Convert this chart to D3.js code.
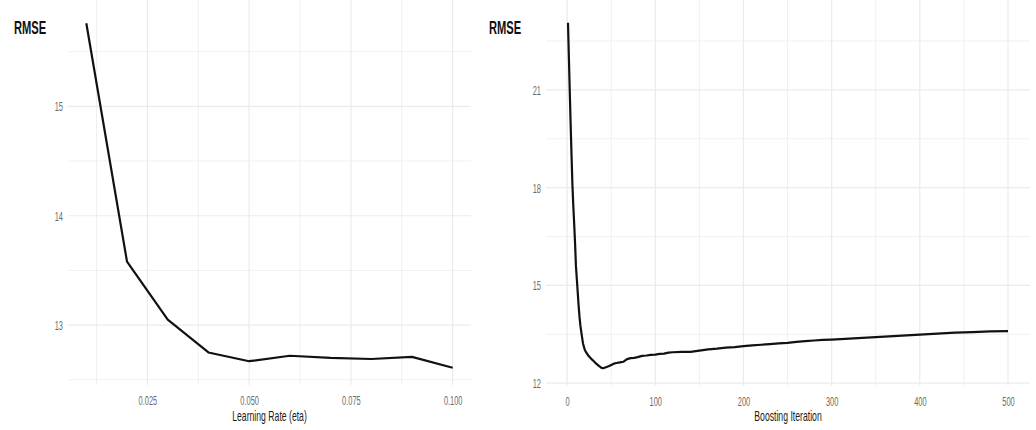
<!DOCTYPE html>
<html>
<head>
<meta charset="utf-8">
<script src="https://cdn.jsdelivr.net/npm/d3@7"></script>
<style>
	html, body { margin:0; padding:0; background:#fff; }
	svg { display:block; }
</style>
</head>
<body>
<svg id="chart" width="1036" height="430"></svg>
<script>

// left panel: RMSE vs learning rate
var etaValues = [0.01, 0.02, 0.03, 0.04, 0.05, 0.06, 0.07, 0.08, 0.09, 0.10];
var etaRmse = [15.76, 13.58, 13.05, 12.75, 12.67, 12.72, 12.70, 12.69, 12.71, 12.61];
var etaXTicks = [0.025, 0.05, 0.075, 0.1];
var etaYTicks = [13, 14, 15];

// right panel: RMSE vs boosting iteration
var iterValues = [1, 2, 3, 4, 5, 6, 7, 8, 9, 10, 11, 12, 13, 14, 15, 16, 18, 20, 22, 24, 26, 28, 30, 33, 36, 39, 41, 44,
	47, 50, 53, 56, 60, 64, 68, 72, 76, 80, 85, 90, 95, 100, 105, 110, 115, 120, 130, 140, 150, 160, 170, 180, 190,
	200, 210, 220, 230, 240, 250, 260, 270, 280, 290, 300, 320, 340, 360, 380, 400, 420, 440, 460, 480, 500];
var iterRmse = [23.06, 22.0, 20.95, 19.95, 19.0, 18.1, 17.45, 16.9, 16.3, 15.6, 15.2, 14.8, 14.4, 14.05, 13.78, 13.58,
	13.22, 13.03, 12.93, 12.85, 12.79, 12.73, 12.68, 12.6, 12.53, 12.47, 12.46, 12.49,
	12.52, 12.56, 12.6, 12.62, 12.64, 12.66, 12.74, 12.77, 12.78, 12.8, 12.84, 12.85, 12.87, 12.88, 12.9, 12.91, 12.94,
	12.95, 12.96, 12.96, 13.0, 13.04, 13.06, 13.09, 13.11,
	13.14, 13.16, 13.18, 13.2, 13.22, 13.24, 13.27, 13.29, 13.31, 13.33, 13.34, 13.37, 13.40, 13.43, 13.46, 13.49,
	13.52, 13.55, 13.57, 13.59, 13.60];
var iterXTicks = [0, 100, 200, 300, 400, 500];
var iterYTicks = [12, 15, 18, 21];

var SQUEEZE = 0.62;   // the source picture is squashed horizontally
var FONT = "'Liberation Sans', Arial, sans-serif";

var svg = d3.select("#chart");

function expand(ext)
{
	var pad = (ext[1] - ext[0]) * 0.05;
	return [ext[0] - pad, ext[1] + pad];
}

function midpoints(ticks)
{
	var step = ticks[1] - ticks[0];
	var out = [ticks[0] - step / 2];
	for (var i = 0; i < ticks.length; i++)
		out.push(ticks[i] + step / 2);
	return out;
}

function drawPanel(cfg)
{
	var x = d3.scaleLinear().domain(expand(d3.extent(cfg.xs))).range([cfg.left, cfg.right]);
	var y = d3.scaleLinear().domain(expand(d3.extent(cfg.ys))).range([cfg.bottom, cfg.top]);

	var g = svg.append("g");

	var xMinor = midpoints(cfg.xTicks).filter(function (d) { return d >= x.domain()[0] && d <= x.domain()[1]; });
	var yMinor = midpoints(cfg.yTicks).filter(function (d) { return d >= y.domain()[0] && d <= y.domain()[1]; });

	g.selectAll("line.xminor").data(xMinor).enter().append("line")
		.attr("x1", function (d) { return x(d); }).attr("x2", function (d) { return x(d); })
		.attr("y1", cfg.top - 6).attr("y2", cfg.bottom)
		.attr("stroke", "#f0f0f0").attr("stroke-width", 1);
	g.selectAll("line.yminor").data(yMinor).enter().append("line")
		.attr("y1", function (d) { return y(d); }).attr("y2", function (d) { return y(d); })
		.attr("x1", cfg.left).attr("x2", cfg.right)
		.attr("stroke", "#f0f0f0").attr("stroke-width", 1);
	g.selectAll("line.xmajor").data(cfg.xTicks).enter().append("line")
		.attr("x1", function (d) { return x(d); }).attr("x2", function (d) { return x(d); })
		.attr("y1", cfg.top - 6).attr("y2", cfg.bottom)
		.attr("stroke", "#ebebeb").attr("stroke-width", 1.2);
	g.selectAll("line.ymajor").data(cfg.yTicks).enter().append("line")
		.attr("y1", function (d) { return y(d); }).attr("y2", function (d) { return y(d); })
		.attr("x1", cfg.left).attr("x2", cfg.right)
		.attr("stroke", "#ebebeb").attr("stroke-width", 1.2);

	var xAxis = g.append("g")
		.attr("transform", "translate(0," + cfg.bottom + ")")
		.call(d3.axisBottom(x).tickValues(cfg.xTicks).tickSize(0).tickFormat(cfg.xFormat));
	xAxis.select(".domain").remove();
	xAxis.selectAll("text")
		.attr("y", 0).attr("dy", null)
		.attr("transform", "translate(0,20) scale(" + SQUEEZE + ",1)")
		.attr("fill", "#6a6a6a").style("font-size", "12px").style("font-family", FONT);

	var yAxis = g.append("g")
		.attr("transform", "translate(" + cfg.left + ",0)")
		.call(d3.axisLeft(y).tickValues(cfg.yTicks).tickSize(0).tickFormat(d3.format("d")));
	yAxis.select(".domain").remove();
	yAxis.selectAll("text")
		.attr("x", 0).attr("dy", "0.36em")
		.attr("transform", "translate(-5,0) scale(" + SQUEEZE + ",1)")
		.attr("fill", "#6a6a6a").style("font-size", "12px").style("font-family", FONT);

	var line = d3.line()
		.x(function (d, i) { return x(cfg.xs[i]); })
		.y(function (d) { return y(d); });

	g.append("path")
		.datum(cfg.ys)
		.attr("d", line)
		.attr("fill", "none")
		.attr("stroke", "#111")
		.attr("stroke-width", 2.2)
		.attr("stroke-linejoin", "round");

	g.append("text")
		.attr("transform", "translate(" + ((cfg.left + cfg.right) / 2) + ",421) scale(" + SQUEEZE + ",1)")
		.attr("text-anchor", "middle")
		.attr("fill", "#1a1a1a")
		.style("font-size", "14px").style("font-family", FONT)
		.text(cfg.xTitle);

	g.append("text")
		.attr("transform", "translate(" + cfg.titleX + ",34) scale(" + SQUEEZE + ",1)")
		.attr("fill", "#111")
		.style("font-size", "18px").style("font-weight", "bold").style("font-family", FONT)
		.text("RMSE");
}

drawPanel({
	xs: etaValues, ys: etaRmse, xTicks: etaXTicks, yTicks: etaYTicks,
	xFormat: d3.format(".3f"), xTitle: "Learning Rate (eta)",
	left: 68, right: 471, top: 6, bottom: 385, titleX: 14
});

drawPanel({
	xs: iterValues, ys: iterRmse, xTicks: iterXTicks, yTicks: iterYTicks,
	xFormat: d3.format("d"), xTitle: "Boosting Iteration",
	left: 546, right: 1030, top: 5.5, bottom: 385.5, titleX: 489
});

</script>
</body>
</html>
